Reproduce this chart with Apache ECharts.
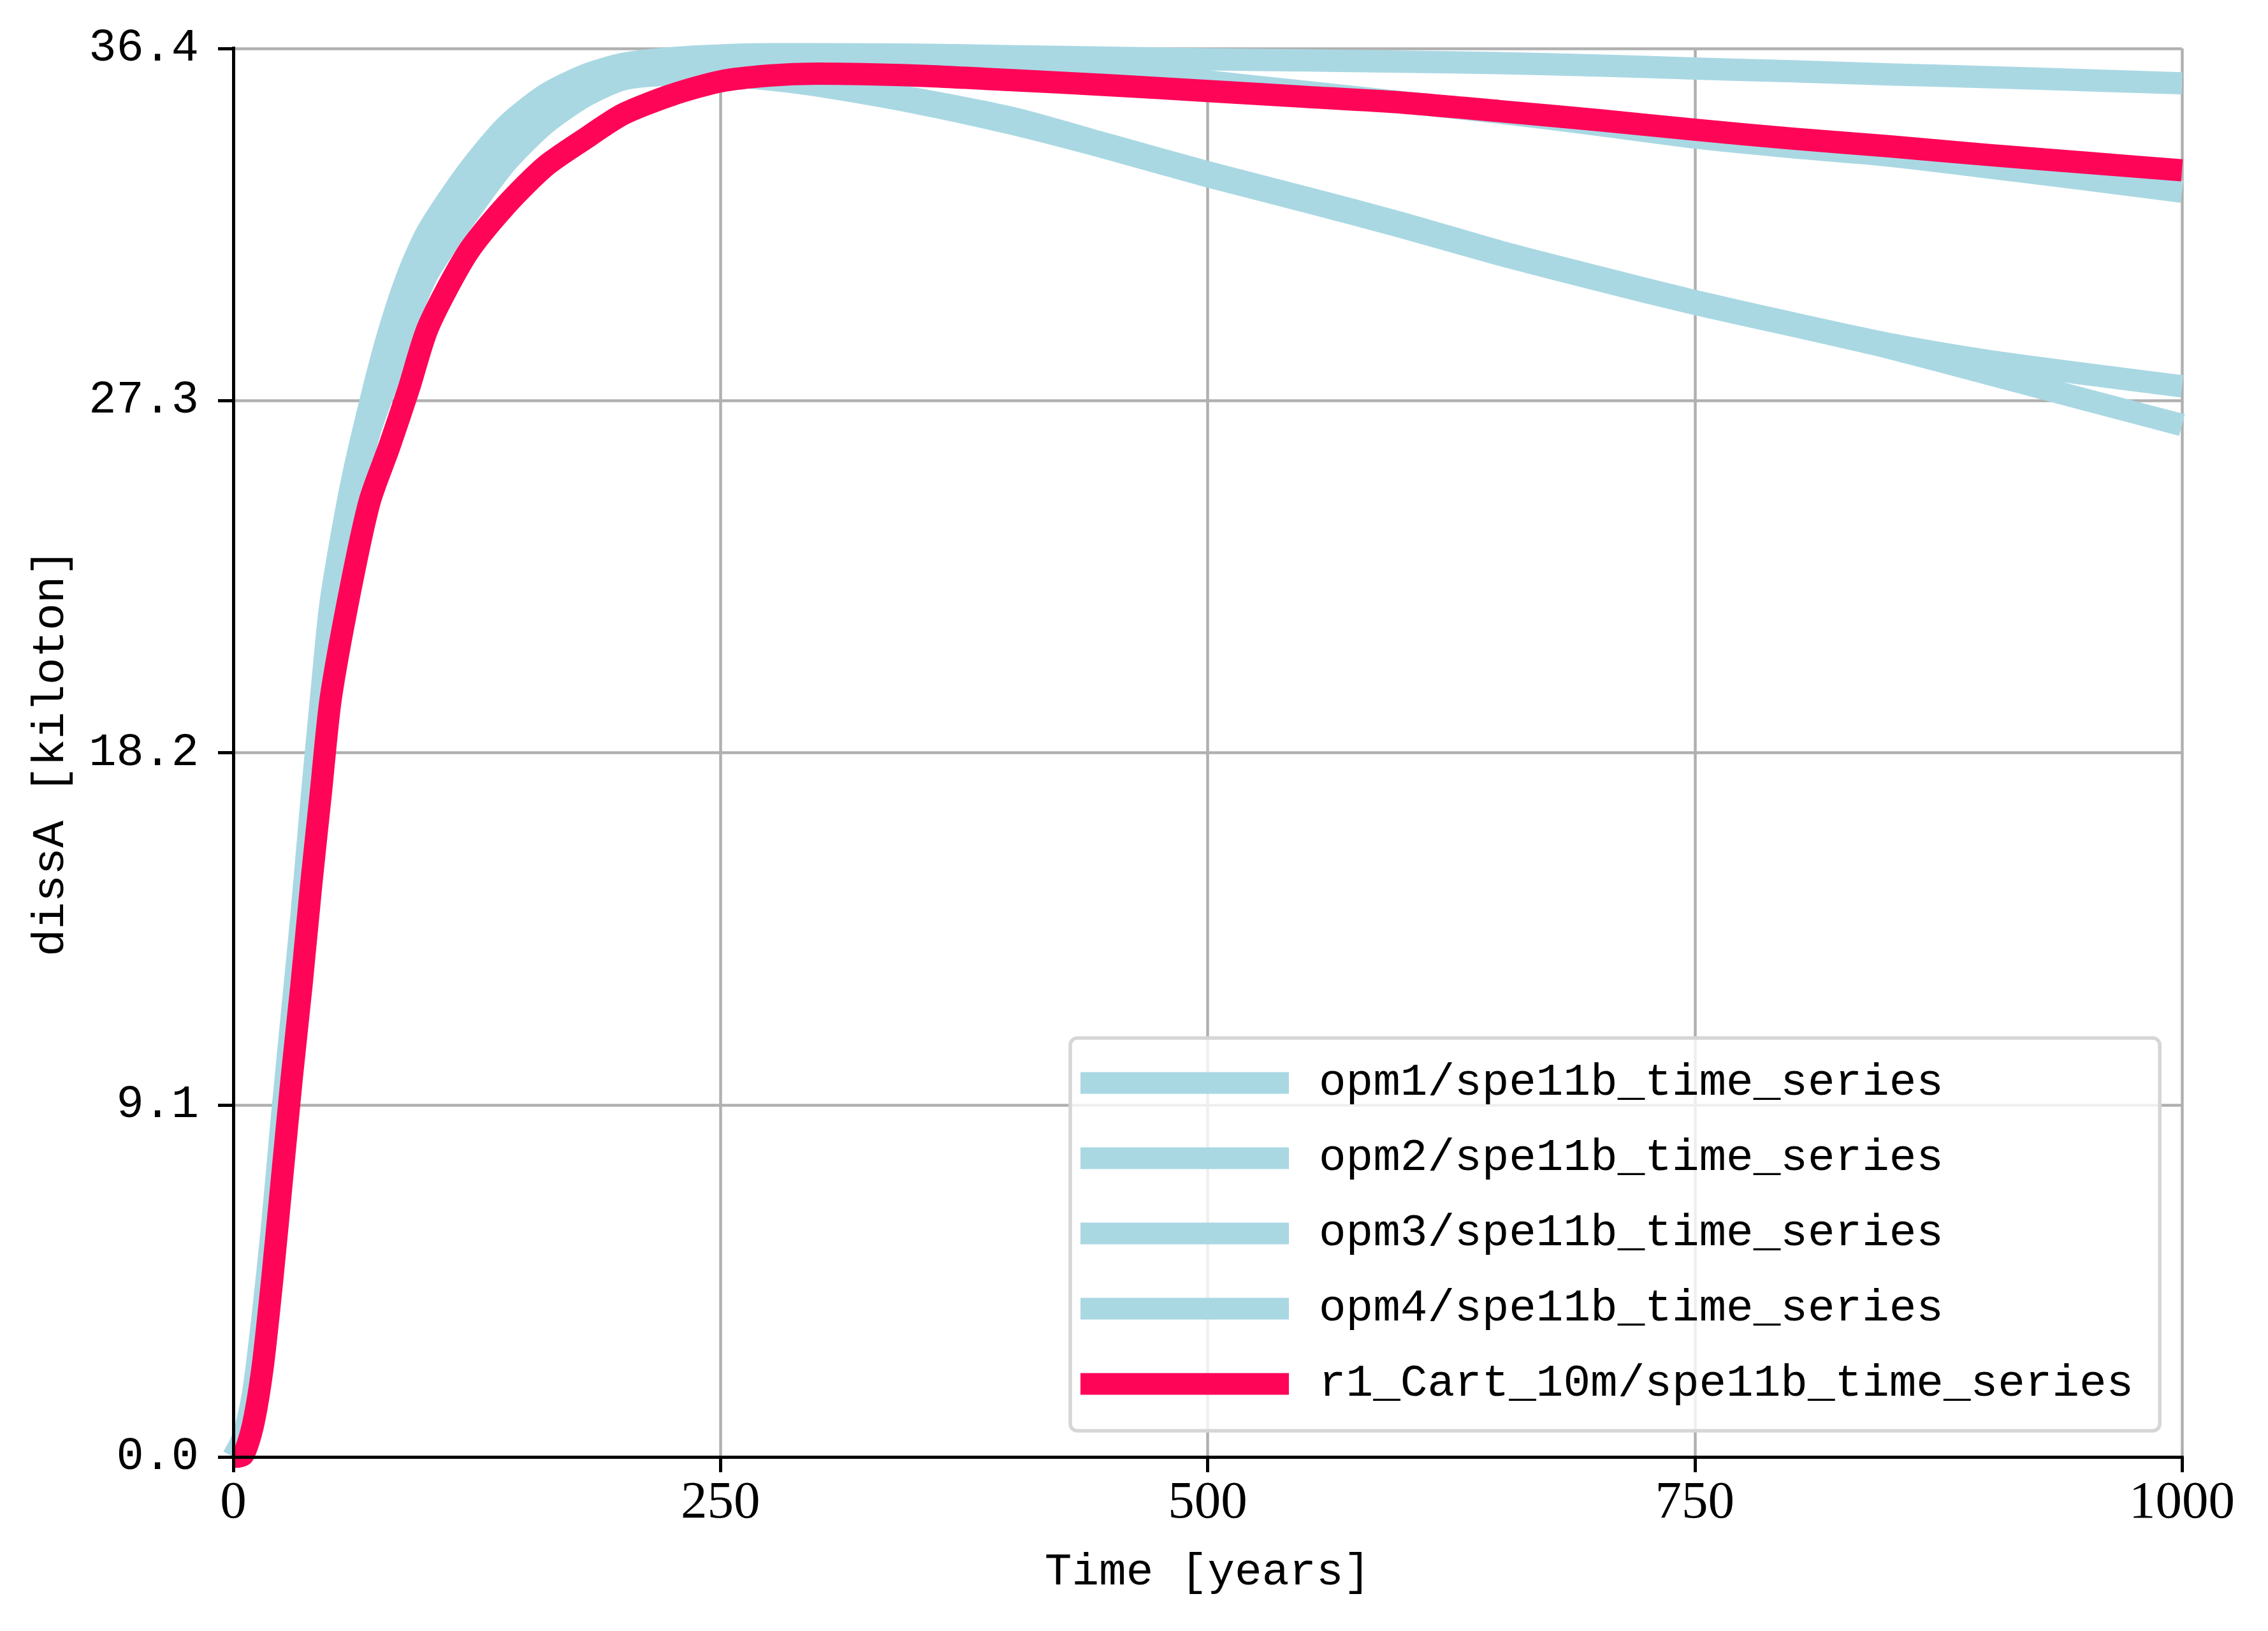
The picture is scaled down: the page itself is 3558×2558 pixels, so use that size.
<!DOCTYPE html>
<html>
<head>
<meta charset="utf-8">
<title>dissA</title>
<script src="https://cdn.jsdelivr.net/npm/echarts@6/dist/echarts.min.js"></script>
<style>
  html, body { margin: 0; padding: 0; background: #fff; }
  #chart { width: 3558px; height: 2558px; }
</style>
</head>
<body>
<div id="chart"></div>
<script>
// time axis shared by every run (years)
const years = [0, 5, 10, 15, 20, 25, 30, 35, 40, 45, 50, 60, 70, 80, 90, 100, 120, 140, 160, 180, 200,
  225, 250, 275, 300, 350, 400, 450, 500, 550, 600, 650, 700, 750, 800, 850, 900, 950, 1000];

// dissA [kiloton]
const opm1 = [0, 0.5, 1.6, 3.6, 6.0, 8.8, 11.4, 14.0, 16.9, 19.6, 22.1, 25.0, 27.2, 29.1, 30.6, 31.7, 33.2, 34.4, 35.2, 35.7, 36.0,
  36.15, 36.22, 36.25, 36.25, 36.24, 36.2, 36.16, 36.12, 36.09, 36.06, 36.02, 35.96, 35.88, 35.81, 35.73, 35.66, 35.58, 35.5];
const opm2 = [0, 0.5, 1.5, 3.5, 5.9, 8.7, 11.3, 13.9, 16.8, 19.5, 22.0, 24.8, 27.0, 28.8, 30.3, 31.4, 32.9, 34.1, 35.0, 35.55, 35.9,
  36.08, 36.15, 36.18, 36.18, 36.15, 36.08, 35.82, 35.55, 35.28, 35.01, 34.74, 34.43, 34.1, 33.85, 33.63, 33.33, 33.02, 32.7];
const opm3 = [0, 0.4, 1.4, 3.4, 5.8, 8.5, 11.1, 13.7, 16.5, 19.2, 21.7, 24.5, 26.7, 28.3, 29.8, 30.9, 32.5, 33.75, 34.7, 35.35, 35.7,
  35.8, 35.78, 35.68, 35.52, 35.1, 34.6, 33.9, 33.2, 32.55, 31.88, 31.15, 30.5, 29.87, 29.3, 28.76, 28.33, 27.99, 27.67];
const opm4 = [0, 0.4, 1.3, 3.3, 5.7, 8.4, 11.0, 13.6, 16.4, 19.1, 21.6, 24.3, 26.5, 27.9, 29.4, 30.6, 32.1, 33.45, 34.45, 35.15, 35.6,
  35.72, 35.7, 35.6, 35.44, 35.0, 34.45, 33.8, 33.1, 32.45, 31.78, 31.07, 30.42, 29.8, 29.24, 28.66, 28.0, 27.33, 26.67];
const r1Cart10m = [0, 0.05, 0.8, 2.3, 4.6, 7.2, 9.8, 12.2, 14.8, 17.2, 19.6, 22.4, 24.7, 26.1, 27.6, 29.2, 31.1, 32.35, 33.35, 34.05, 34.7,
  35.2, 35.55, 35.7, 35.75, 35.7, 35.58, 35.45, 35.3, 35.15, 35.0, 34.78, 34.55, 34.3, 34.07, 33.87, 33.65, 33.45, 33.25];

const seriesNames = [
  "opm1/spe11b_time_series",
  "opm2/spe11b_time_series",
  "opm3/spe11b_time_series",
  "opm4/spe11b_time_series",
  "r1_Cart_10m/spe11b_time_series",
];
const seriesValues = [opm1, opm2, opm3, opm4, r1Cart10m];
const seriesColors = ["#a9d8e3", "#a9d8e3", "#a9d8e3", "#a9d8e3", "#fe0558"];

// axis ranges
const xMax = 1000, xStep = 250;
const yMax = 36.4, yStep = 9.1;

const mono = "Liberation Mono";
const serif = "Liberation Serif";

const chart = echarts.init(document.getElementById("chart"), null, { renderer: "canvas" });

// axes: index 0 only draws the grid lines (under the curves),
// 1 and 2 draw the frame, ticks and labels on top
const gridLine = { show: true, lineStyle: { color: "#b0b0b0", width: 4.5 } };
const spine = { show: true, lineStyle: { color: "#000", width: 5, cap: "square" } };
const off = { show: false };

const option = {
  backgroundColor: "#fff",
  animation: false,
  grid: { left: 366, right: 135, top: 76, bottom: 273, containLabel: false },
  xAxis: [
    { type: "value", min: 0, max: xMax, interval: xStep, position: "bottom",
      axisLine: off, axisTick: off, axisLabel: off, splitLine: gridLine },
    { type: "value", min: 0, max: xMax, interval: xStep, position: "bottom", z: 10,
      axisLine: spine,
      axisTick: { show: true, length: 24, lineStyle: { color: "#000", width: 5 } },
      axisLabel: { show: true, margin: 32, color: "#000", fontFamily: serif, fontSize: 83,
        showMinLabel: true, showMaxLabel: true,
        formatter: (v) => String(v) },
      splitLine: off,
      name: "Time [years]", nameLocation: "middle", nameGap: 146,
      nameTextStyle: { fontFamily: mono, fontSize: 71, color: "#000" } },
    { type: "value", min: 0, max: xMax, position: "top", z: 10,
      axisLine: spine, axisTick: off, axisLabel: off, splitLine: off },
  ],
  yAxis: [
    { type: "value", min: 0, max: yMax, interval: yStep, position: "left",
      axisLine: off, axisTick: off, axisLabel: off, splitLine: gridLine },
    { type: "value", min: 0, max: yMax, interval: yStep, position: "left", z: 10,
      axisLine: spine,
      axisTick: { show: true, length: 24, lineStyle: { color: "#000", width: 5 } },
      axisLabel: { show: true, margin: 54, color: "#000", fontFamily: mono, fontSize: 72,
        showMinLabel: true, showMaxLabel: true,
        formatter: (v) => v.toFixed(1) },
      splitLine: off,
      name: "dissA [kiloton]", nameLocation: "middle", nameGap: 250, nameRotate: 90,
      nameTextStyle: { fontFamily: mono, fontSize: 71, color: "#000" } },
    { type: "value", min: 0, max: yMax, position: "right", z: 10,
      axisLine: spine, axisTick: off, axisLabel: off, splitLine: off },
  ],
  legend: {
    orient: "vertical",
    left: 1679,
    top: 1628,
    icon: "rect",
    itemWidth: 327,
    itemHeight: 34,
    itemGap: 47,
    padding: [35, 41, 38, 16],
    backgroundColor: "rgba(255,255,255,0.8)",
    borderColor: "#d6d6d6",
    borderWidth: 5.6,
    borderRadius: 11,
    itemStyle: { borderWidth: 0 },
    textStyle: { fontFamily: mono, fontSize: 71, lineHeight: 70, color: "#000", padding: [0, 0, 0, 42] },
    data: seriesNames,
  },
  series: seriesNames.map((name, k) => ({
    name: name,
    type: "line",
    xAxisIndex: 0,
    yAxisIndex: 0,
    showSymbol: false,
    symbol: "none",
    silent: true,
    smooth: 0.25,
    z: 2 + k,
    itemStyle: { color: seriesColors[k] },
    lineStyle: { color: seriesColors[k], width: 35, join: "round" },
    data: years.map((t, i) => [t, seriesValues[k][i]]),
  })),
};

chart.setOption(option);
</script>
</body>
</html>
